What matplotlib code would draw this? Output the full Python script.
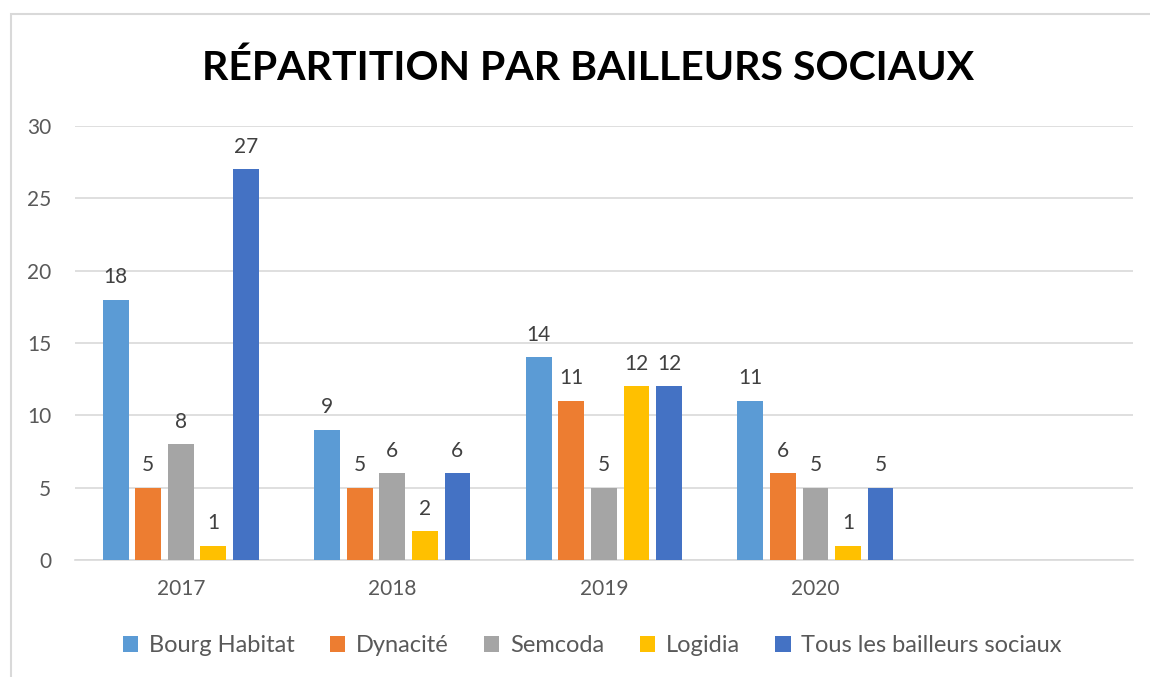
import numpy as np
import matplotlib.pyplot as plt
from matplotlib.patches import Rectangle

# Data
years = ['2017', '2018', '2019', '2020', '']
series = ['Bourg Habitat', 'Dynacité', 'Semcoda', 'Logidia', 'Tous les bailleurs sociaux']
bourg = [18, 9, 14, 11, None]
dynacite = [5, 5, 11, 6, None]
semcoda = [8, 6, 5, 5, None]
logidia = [1, 2, 12, 1, None]
tous = [27, 6, 12, 5, None]
values = [bourg, dynacite, semcoda, logidia, tous]
colors = ['#5B9BD5', '#ED7D31', '#A5A5A5', '#FFC000', '#4472C4']

plt.rcParams['font.family'] = ['Lato', 'DejaVu Sans']

fig = plt.figure(figsize=(11.5, 6.77), dpi=100)
ax = fig.add_axes([0.0652, 0.1728, 0.9198, 0.6411])

# chart frame (Excel style border)
fig.patches.append(Rectangle((11 / 1150, -0.05), 1.2, 1 - 14 / 677 + 0.05,
                             transform=fig.transFigure, fill=False,
                             edgecolor='#D9D9D9', lw=1.5, zorder=0))

x = np.arange(len(years))
pitch = 1 / (len(series) + 1.5)
for i, (name, vals, c) in enumerate(zip(series, values, colors)):
    xs = [xi + (i - 2) * pitch for xi, v in zip(x, vals) if v is not None]
    vs = [v for v in vals if v is not None]
    bars = ax.bar(xs, vs, width=pitch * 0.79, color=c, linewidth=0,
                  label=name, zorder=3)
    for b, v in zip(bars, vs):
        ax.annotate(str(v), (b.get_x() + b.get_width() / 2, v), xytext=(0, 9),
                    textcoords='offset points', ha='center', va='bottom',
                    fontsize=15, color='#404040')

ax.set_xlim(-0.5, len(years) - 0.5)
ax.set_ylim(0, 30)
ax.set_yticks(range(0, 31, 5))
ax.set_xticks(x)
ax.set_xticklabels(years)
ax.tick_params(axis='both', length=0, labelsize=15, colors='#595959')
ax.tick_params(axis='y', pad=17)
ax.tick_params(axis='x', pad=14)
ax.grid(axis='y', color='#D9D9D9', lw=1.2, zorder=0)
for s in ['top', 'right', 'left']:
    ax.spines[s].set_visible(False)
ax.spines['bottom'].set_color('#D9D9D9')
ax.spines['bottom'].set_linewidth(1.2)

fig.text(0.511, 0.899, 'RÉPARTITION PAR BAILLEURS SOCIAUX', ha='center', va='center',
         fontsize=29.5, fontweight='bold', color='black')

fig.legend(loc='center', bbox_to_anchor=(0.515, 0.046), ncol=5, frameon=False,
           fontsize=17, handlelength=0.65, handleheight=0.65, handletextpad=0.45,
           columnspacing=1.5, labelcolor='#595959')

fig.savefig('out.png', dpi=100)
